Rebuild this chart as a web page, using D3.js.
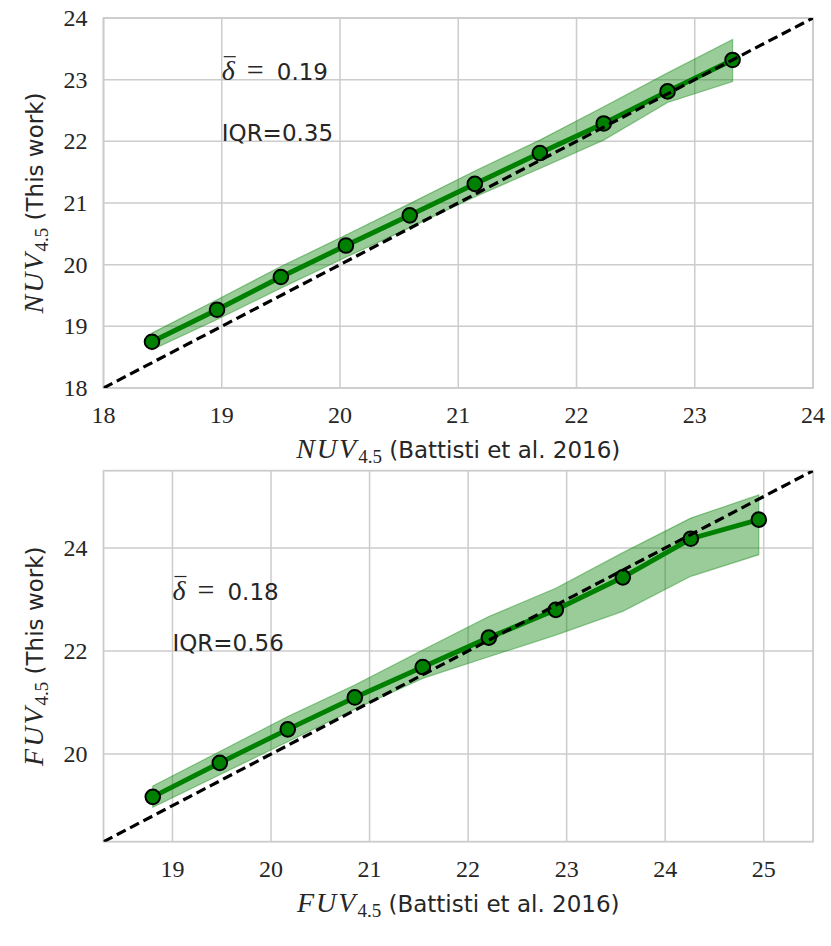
<!DOCTYPE html>
<html>
<head>
<meta charset="utf-8">
<script src="https://cdn.jsdelivr.net/npm/d3@7"></script>
<style>
  body { margin: 0; background: #fff; }
  svg { display: block; }
</style>
</head>
<body>
<svg id="chart" width="831" height="946"></svg>
<script>
// NUV panel (top)
var nuvX  = [18.41, 18.96, 19.50, 20.05, 20.59, 21.14, 21.69, 22.23, 22.77, 23.32];
var nuvY  = [18.75, 19.27, 19.80, 20.31, 20.80, 21.31, 21.81, 22.29, 22.81, 23.32];
var nuvHi = [18.89, 19.43, 19.97, 20.48, 20.99, 21.52, 22.02, 22.56, 23.11, 23.65];
var nuvLo = [18.62, 19.11, 19.62, 20.12, 20.60, 21.10, 21.56, 22.02, 22.63, 22.97];
var nuvXTicks = [18, 19, 20, 21, 22, 23, 24];
var nuvYTicks = [18, 19, 20, 21, 22, 23, 24];

// FUV panel (bottom)
var fuvX  = [18.80, 19.48, 20.17, 20.85, 21.54, 22.21, 22.89, 23.57, 24.26, 24.95];
var fuvY  = [19.17, 19.83, 20.48, 21.10, 21.69, 22.26, 22.80, 23.43, 24.18, 24.55];
var fuvHi = [19.38, 20.05, 20.73, 21.34, 22.02, 22.67, 23.22, 23.91, 24.58, 25.03];
var fuvLo = [18.97, 19.60, 20.24, 20.87, 21.47, 21.89, 22.31, 22.77, 23.45, 23.87];
var fuvXTicks = [19, 20, 21, 22, 23, 24, 25];
var fuvYTicks = [20, 22, 24];

var svg = d3.select('#chart');
var textColor = '#262626';
var sans = '"DejaVu Sans", sans-serif';
var serif = '"Liberation Serif", "Times New Roman", serif';

function drawPanel(cfg) {
  var x = d3.scaleLinear().domain(cfg.domain).range([cfg.left, cfg.left + cfg.width]);
  var y = d3.scaleLinear().domain(cfg.domain).range([cfg.top + cfg.height, cfg.top]);
  var g = svg.append('g');

  var clipId = 'clip-' + cfg.name;
  svg.append('clipPath').attr('id', clipId)
    .append('rect')
    .attr('x', cfg.left).attr('y', cfg.top)
    .attr('width', cfg.width).attr('height', cfg.height);

  // grid
  g.selectAll('.vgrid').data(cfg.xTicks).enter().append('line')
    .attr('x1', function (d) { return x(d); })
    .attr('x2', function (d) { return x(d); })
    .attr('y1', cfg.top).attr('y2', cfg.top + cfg.height)
    .attr('stroke', '#cccccc').attr('stroke-width', 1.5);
  g.selectAll('.hgrid').data(cfg.yTicks).enter().append('line')
    .attr('y1', function (d) { return y(d); })
    .attr('y2', function (d) { return y(d); })
    .attr('x1', cfg.left).attr('x2', cfg.left + cfg.width)
    .attr('stroke', '#cccccc').attr('stroke-width', 1.5);

  // spines
  g.append('rect')
    .attr('x', cfg.left).attr('y', cfg.top)
    .attr('width', cfg.width).attr('height', cfg.height)
    .attr('fill', 'none').attr('stroke', '#cccccc').attr('stroke-width', 1.8);

  var pts = cfg.xs.map(function (v, i) {
    return { x: v, y: cfg.ys[i], hi: cfg.hi[i], lo: cfg.lo[i] };
  });

  var plot = g.append('g').attr('clip-path', 'url(#' + clipId + ')');

  // band
  plot.append('path')
    .datum(pts)
    .attr('d', d3.area()
      .x(function (d) { return x(d.x); })
      .y0(function (d) { return y(d.lo); })
      .y1(function (d) { return y(d.hi); }))
    .attr('fill', 'green').attr('fill-opacity', 0.4)
    .attr('stroke', 'green').attr('stroke-opacity', 0.4).attr('stroke-width', 1.2);

  // median line
  plot.append('path')
    .datum(pts)
    .attr('d', d3.line()
      .x(function (d) { return x(d.x); })
      .y(function (d) { return y(d.y); }))
    .attr('fill', 'none').attr('stroke', 'green').attr('stroke-width', 5);

  // markers
  plot.selectAll('.dot').data(pts).enter().append('circle')
    .attr('cx', function (d) { return x(d.x); })
    .attr('cy', function (d) { return y(d.y); })
    .attr('r', 7.3)
    .attr('fill', 'green').attr('stroke', 'black').attr('stroke-width', 2);

  // one-to-one line
  plot.append('line')
    .attr('x1', x(cfg.domain[0])).attr('y1', y(cfg.domain[0]))
    .attr('x2', x(cfg.domain[1])).attr('y2', y(cfg.domain[1]))
    .attr('stroke', 'black').attr('stroke-width', 3.2)
    .attr('stroke-dasharray', '10,5');

  // tick labels
  g.selectAll('.xt').data(cfg.xTicks).enter().append('text')
    .attr('x', function (d) { return x(d); })
    .attr('y', cfg.top + cfg.height + 35)
    .attr('text-anchor', 'middle')
    .attr('font-family', serif).attr('font-size', 24)
    .attr('fill', textColor)
    .text(function (d) { return d; });
  g.selectAll('.yt').data(cfg.yTicks).enter().append('text')
    .attr('x', cfg.left - 16)
    .attr('y', function (d) { return y(d) + 8; })
    .attr('text-anchor', 'end')
    .attr('font-family', serif).attr('font-size', 24)
    .attr('fill', textColor)
    .text(function (d) { return d; });

  // axis labels
  var xl = g.append('text')
    .attr('x', cfg.left + cfg.width / 2)
    .attr('y', cfg.top + cfg.height + 70)
    .attr('text-anchor', 'middle')
    .attr('fill', textColor);
  addMath(xl, cfg.band);
  xl.append('tspan').attr('dy', -5).attr('font-family', sans).attr('font-size', 23)
    .text(' (Battisti et al. 2016)');

  var cy = cfg.top + cfg.height / 2;
  var yl = g.append('text')
    .attr('transform', 'translate(43,' + cy + ') rotate(-90)')
    .attr('text-anchor', 'middle')
    .attr('fill', textColor);
  addMath(yl, cfg.band);
  yl.append('tspan').attr('dy', -5).attr('font-family', sans).attr('font-size', 23)
    .text(' (This work)');

  // annotations
  var ax = x(cfg.annX), ay = y(cfg.annY[0]);
  var delta = g.append('text')
    .attr('x', ax).attr('y', ay)
    .attr('fill', textColor)
    .attr('font-family', serif).attr('font-style', 'italic').attr('font-size', 28)
    .text('δ');
  var dw = delta.node().getComputedTextLength();
  g.append('line')
    .attr('x1', ax + 2).attr('x2', ax + dw + 1)
    .attr('y1', ay - 23).attr('y2', ay - 23)
    .attr('stroke', textColor).attr('stroke-width', 1.2);
  g.append('text')
    .attr('x', ax + 25).attr('y', ay)
    .attr('fill', textColor)
    .attr('font-family', serif).attr('font-size', 30)
    .text('=');
  g.append('text')
    .attr('x', ax + 55).attr('y', ay)
    .attr('fill', textColor)
    .attr('font-family', sans).attr('font-size', 23)
    .text(cfg.delta);

  g.append('text')
    .attr('x', ax).attr('y', y(cfg.annY[1]))
    .attr('fill', textColor)
    .attr('font-family', sans).attr('font-size', 23)
    .text('IQR=' + cfg.iqr);
}

function addMath(t, band) {
  t.append('tspan')
    .attr('font-family', serif).attr('font-style', 'italic').attr('font-size', 28)
    .attr('letter-spacing', 2)
    .text(band);
  t.append('tspan')
    .attr('font-family', serif).attr('font-size', 19).attr('dy', 5)
    .text('4.5');
}

drawPanel({
  name: 'nuv', band: 'NUV',
  left: 103.5, top: 18, width: 709.5, height: 370,
  domain: [18, 24],
  xs: nuvX, ys: nuvY, hi: nuvHi, lo: nuvLo,
  xTicks: nuvXTicks, yTicks: nuvYTicks,
  annX: 19, annY: [23, 22], delta: '0.19', iqr: '0.35'
});

drawPanel({
  name: 'fuv', band: 'FUV',
  left: 103.5, top: 470.7, width: 709.5, height: 371,
  domain: [18.3, 25.5],
  xs: fuvX, ys: fuvY, hi: fuvHi, lo: fuvLo,
  xTicks: fuvXTicks, yTicks: fuvYTicks,
  annX: 19, annY: [23, 22], delta: '0.18', iqr: '0.56'
});
</script>
</body>
</html>
